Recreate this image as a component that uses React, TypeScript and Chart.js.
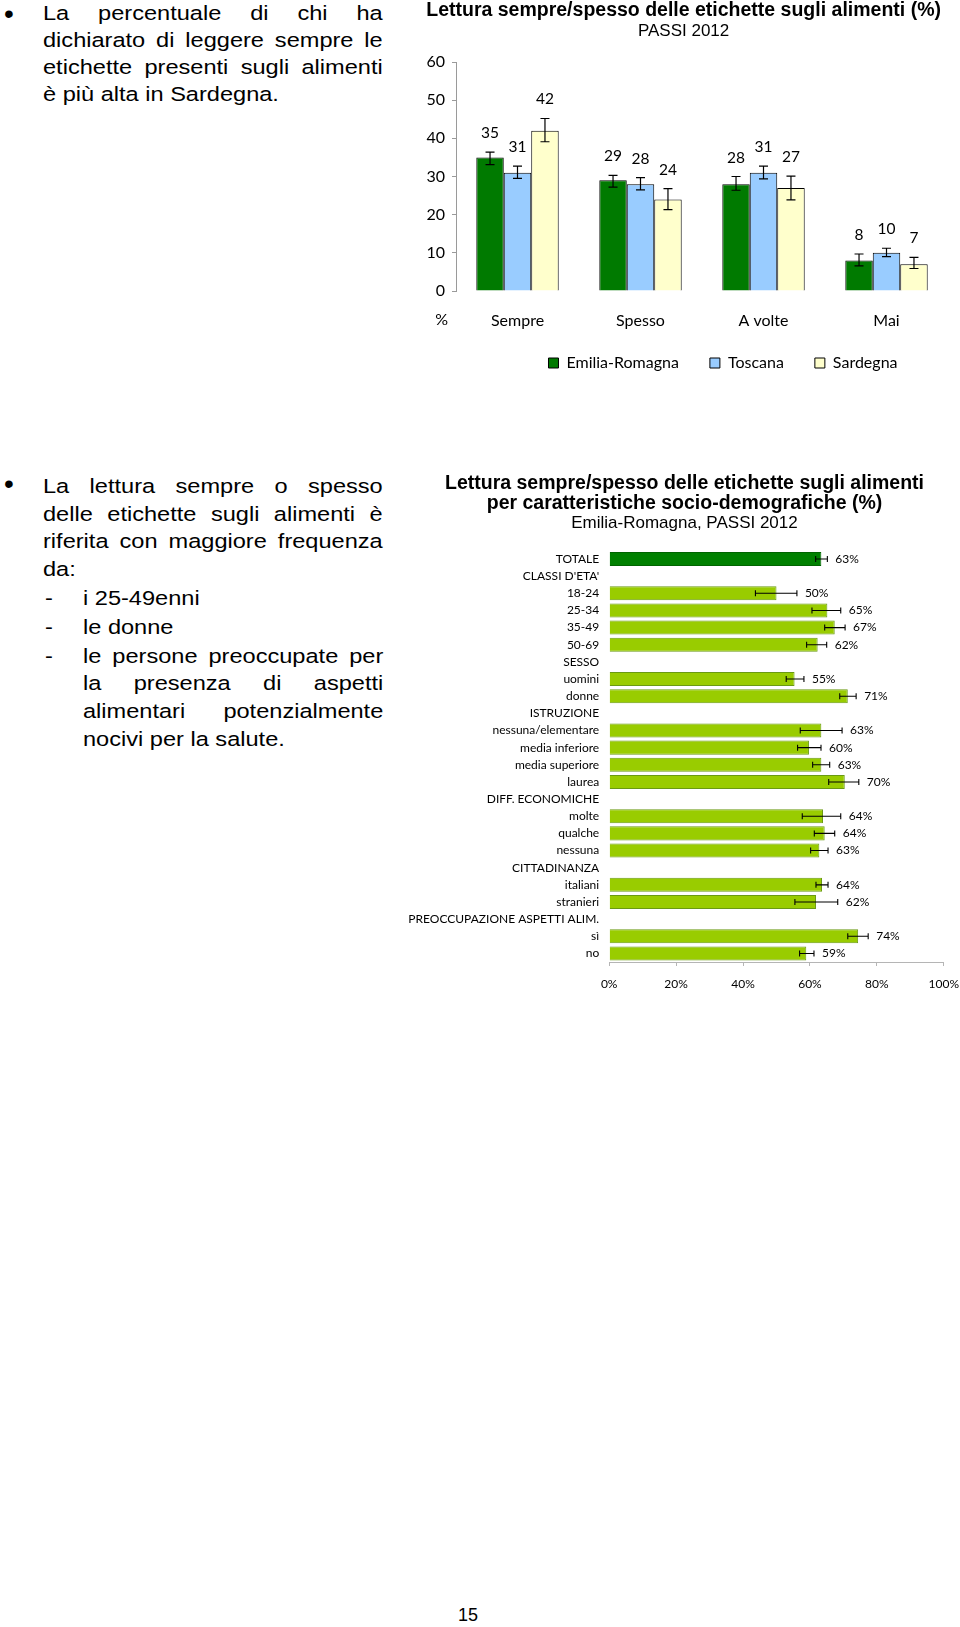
import React, { useEffect, useRef } from 'react';
import { Chart, registerables } from 'chart.js';

Chart.register(...registerables);

// ---------- Chart 1 data ----------
const frequencyLabels = ['Sempre', 'Spesso', 'A volte', 'Mai'];
const regionNames = ['Emilia-Romagna', 'Toscana', 'Sardegna'];
const emiliaValues = [35, 29, 28, 8];
const emiliaLow = [33.1, 27.2, 26.4, 6.6];
const emiliaHigh = [36.4, 30.3, 30.0, 9.7];
const toscanaValues = [31, 28, 31, 10];
const toscanaLow = [29.5, 26.5, 29.4, 9.0];
const toscanaHigh = [32.7, 29.7, 32.7, 11.2];
const sardegnaValues = [42, 24, 27, 7];
const sardegnaLow = [39.1, 21.3, 23.9, 5.9];
const sardegnaHigh = [45.2, 26.8, 30.1, 8.8];
const yAxisMax1 = 60;
const yAxisStep1 = 10;

// ---------- Chart 2 data ----------
const groupLabels = [
  'TOTALE',
  "CLASSI D'ETA'",
  '18-24',
  '25-34',
  '35-49',
  '50-69',
  'SESSO',
  'uomini',
  'donne',
  'ISTRUZIONE',
  'nessuna/elementare',
  'media inferiore',
  'media superiore',
  'laurea',
  'DIFF. ECONOMICHE',
  'molte',
  'qualche',
  'nessuna',
  'CITTADINANZA',
  'italiani',
  'stranieri',
  'PREOCCUPAZIONE ASPETTI ALIM.',
  'sì',
  'no',
];
const readingValues = [63.4, null, 50.0, 65.2, 67.4, 62.3, null, 55.4, 71.3, null, 63.4, 59.7, 63.4, 70.4, null, 63.9, 64.4, 62.8, null, 63.6, 61.8, null, 74.4, 58.9];
const readingLow = [61.7, null, 43.7, 60.6, 64.4, 59.0, null, 52.9, 68.9, null, 57.1, 56.3, 60.8, 65.6, null, 57.7, 61.3, 60.2, null, 61.8, 55.5, null, 71.3, 56.9];
const readingHigh = [65.2, null, 56.1, 69.2, 70.5, 65.0, null, 58.2, 73.8, null, 69.6, 63.3, 65.9, 74.6, null, 69.2, 67.4, 65.4, null, 65.4, 68.3, null, 77.4, 61.2];
const xAxisMax2 = 100;
const xAxisStep2 = 20;

const SANS = '"Liberation Sans", Arial, sans-serif';
const LABEL_FONT = 'Lato, "Open Sans", sans-serif';

const errorBarsPlugin = {
  id: 'errorBars',
  afterDatasetsDraw(chart: any, _args: any, opts: any) {
    const { ctx } = chart;
    const horizontal = chart.options.indexAxis === 'y';
    const valueScale = horizontal ? chart.scales.x : chart.scales.y;
    const cap = opts.cap ?? 4;
    chart.data.datasets.forEach((ds: any, di: number) => {
      const meta = chart.getDatasetMeta(di);
      meta.data.forEach((bar: any, i: number) => {
        const v = ds.data[i];
        if (v == null) return;
        const lo = valueScale.getPixelForValue(ds.errLow[i]);
        const hi = valueScale.getPixelForValue(ds.errHigh[i]);
        ctx.save();
        ctx.strokeStyle = '#000';
        ctx.lineWidth = opts.lineWidth ?? 1;
        ctx.beginPath();
        if (horizontal) {
          const y = bar.y;
          ctx.moveTo(lo, y); ctx.lineTo(hi, y);
          ctx.moveTo(lo, y - cap); ctx.lineTo(lo, y + cap);
          ctx.moveTo(hi, y - cap); ctx.lineTo(hi, y + cap);
        } else {
          const x = bar.x;
          ctx.moveTo(x, lo); ctx.lineTo(x, hi);
          ctx.moveTo(x - cap, lo); ctx.lineTo(x + cap, lo);
          ctx.moveTo(x - cap, hi); ctx.lineTo(x + cap, hi);
        }
        ctx.stroke();
        ctx.fillStyle = '#000';
        ctx.font = opts.font;
        ctx.textBaseline = 'middle';
        const text = Math.round(v) + (opts.suffix || '');
        if (horizontal) {
          ctx.textAlign = 'left';
          ctx.fillText(text, hi + opts.gap, bar.y);
        } else {
          ctx.textAlign = 'center';
          ctx.fillText(text, bar.x, hi - opts.gap);
        }
        ctx.restore();
      });
    });
  },
};

const shiftBoxesPlugin = {
  id: 'shiftBoxes',
  afterLayout(chart: any, _args: any, opts: any) {
    chart.boxes.forEach((b: any) => {
      if (b.axis) return;
      let dx = 0;
      let dy = 0;
      if (b === chart.legend) {
        dx = opts.legend || 0;
        dy = opts.legendY || 0;
      } else if (b.position === 'top') dx = opts.title || 0;
      b.left += dx;
      b.right += dx;
      b.top += dy;
      b.bottom += dy;
    });
  },
};

const axisUnitPlugin = {
  id: 'axisUnit',
  afterDraw(chart: any, _args: any, opts: any) {
    if (!opts.text) return;
    const { ctx, chartArea } = chart;
    ctx.save();
    ctx.fillStyle = '#000';
    ctx.font = opts.font;
    ctx.textAlign = 'center';
    ctx.textBaseline = 'middle';
    ctx.fillText(opts.text, chartArea.left + opts.dx, chartArea.bottom + opts.dy);
    ctx.restore();
  },
};

function FrequencyChart() {
  const ref = useRef<HTMLCanvasElement | null>(null);
  useEffect(() => {
    if (!ref.current) return;
    const chart = new Chart(ref.current, {
      type: 'bar',
      data: {
        labels: frequencyLabels,
        datasets: [
          { label: regionNames[0], data: emiliaValues, errLow: emiliaLow, errHigh: emiliaHigh, backgroundColor: '#007A00', borderColor: '#000', borderWidth: 1 } as any,
          { label: regionNames[1], data: toscanaValues, errLow: toscanaLow, errHigh: toscanaHigh, backgroundColor: '#99CCFF', borderColor: '#000', borderWidth: 1 } as any,
          { label: regionNames[2], data: sardegnaValues, errLow: sardegnaLow, errHigh: sardegnaHigh, backgroundColor: '#FFFFCC', borderColor: '#000', borderWidth: 1 } as any,
        ],
      },
      options: {
        responsive: false,
        animation: false,
        devicePixelRatio: 1,
        categoryPercentage: 0.67,
        barPercentage: 1,
        layout: { padding: { left: 0, right: 12, top: 0, bottom: 5 } },
        scales: {
          x: {
            grid: { display: false, drawTicks: false },
            border: { display: false },
            ticks: { color: '#000', font: { family: LABEL_FONT, size: 16 }, padding: 20 },
            afterFit: (s: any) => { s.height = 42; },
          },
          y: {
            min: 0,
            max: yAxisMax1,
            ticks: { stepSize: yAxisStep1, color: '#000', font: { family: LABEL_FONT, size: 16 }, padding: 7 },
            grid: { drawOnChartArea: false, drawTicks: true, tickLength: 4, color: '#9a9a9a' },
            border: { display: true, color: '#9a9a9a' },
            afterFit: (s: any) => { s.width = 46; },
          },
        },
        plugins: {
          title: {
            display: true,
            text: 'Lettura sempre/spesso delle etichette sugli alimenti (%)',
            color: '#000',
            font: { family: SANS, size: 19.5, weight: 'bold', lineHeight: 1 },
            padding: { top: 1, bottom: 1.2 },
          },
          subtitle: {
            display: true,
            text: 'PASSI 2012',
            color: '#000',
            font: { family: SANS, size: 17, weight: 'normal', lineHeight: 1.15 },
            padding: { top: 0, bottom: 20.75 },
          },
          legend: {
            display: true,
            position: 'bottom',
            labels: {
              boxWidth: 10,
              boxHeight: 10,
              padding: 31,
              color: '#000',
              font: { family: LABEL_FONT, size: 16 },
            },
          },
          tooltip: { enabled: false },
          errorBars: { font: '15.5px Lato', gap: 19, cap: 4.5, lineWidth: 1.2 },
          shiftBoxes: { title: 4.6, legend: 44, legendY: -9 },
          axisUnit: { text: '%', font: '16px Lato', dx: -14.4, dy: 28.5 },
        } as any,
      },
      plugins: [errorBarsPlugin, shiftBoxesPlugin, axisUnitPlugin],
    } as any);
    return () => chart.destroy();
  }, []);
  return <canvas ref={ref} width={550} height={395} style={{ position: 'absolute', left: 410, top: 0, width: 550, height: 395 }} />;
}

function ProfileChart() {
  const ref = useRef<HTMLCanvasElement | null>(null);
  useEffect(() => {
    if (!ref.current) return;
    const fills = groupLabels.map((_, i) => (i === 0 ? '#008000' : '#99CC00'));
    const borders = groupLabels.map((_, i) => (i === 0 ? '#006400' : '#6A9A12'));
    const chart = new Chart(ref.current, {
      type: 'bar',
      data: {
        labels: groupLabels,
        datasets: [
          { label: 'Lettura sempre/spesso', data: readingValues, errLow: readingLow, errHigh: readingHigh, backgroundColor: fills, borderColor: borders, borderWidth: 1 } as any,
        ],
      },
      options: {
        indexAxis: 'y',
        responsive: false,
        animation: false,
        devicePixelRatio: 1,
        categoryPercentage: 1,
        barPercentage: 0.82,
        layout: { padding: { left: 0, right: 16.2, top: 0, bottom: 3.8 } },
        scales: {
          x: {
            min: 0,
            max: xAxisMax2,
            ticks: { stepSize: xAxisStep2, color: '#000', font: { family: LABEL_FONT, size: 12 }, padding: 10.5, callback: (v: any) => v + '%' },
            grid: { drawOnChartArea: false, drawTicks: true, tickLength: 4, color: '#b5b5b5' },
            border: { display: true, color: '#b5b5b5' },
            afterFit: (s: any) => {
              s.height = 39.2;
              s.paddingLeft = 0;
              s.paddingRight = 0;
            },
          },
          y: {
            grid: { display: false, drawTicks: false },
            border: { display: false },
            ticks: { autoSkip: false, color: '#000', font: { family: LABEL_FONT, size: 12 }, padding: 10 },
            afterFit: (s: any) => { s.width = 229.2; },
          },
        },
        plugins: {
          title: {
            display: true,
            text: ['Lettura sempre/spesso delle etichette sugli alimenti', 'per caratteristiche socio-demografiche (%)'],
            color: '#000',
            font: { family: SANS, size: 19.5, weight: 'bold', lineHeight: 1.026 },
            padding: { top: 8.5, bottom: 0 },
          },
          subtitle: {
            display: true,
            text: 'Emilia-Romagna, PASSI 2012',
            color: '#000',
            font: { family: SANS, size: 17, weight: 'normal', lineHeight: 1.15 },
            padding: { top: 0, bottom: 17.35 },
          },
          legend: { display: false },
          tooltip: { enabled: false },
          errorBars: { font: '12px Lato', gap: 8, cap: 3, lineWidth: 1.1, suffix: '%' },
          shiftBoxes: { title: 22.6 },
        } as any,
      },
      plugins: [errorBarsPlugin, shiftBoxesPlugin],
    } as any);
    return () => chart.destroy();
  }, []);
  return <canvas ref={ref} width={580} height={540} style={{ position: 'absolute', left: 380, top: 465, width: 580, height: 540 }} />;
}

const TEXT_SIZE = 20.5;
const STRETCH = 1.15;
const BASELINE_OFFSET = 19.1;

function TextLine({ baseline, left, right, text, justify }: { baseline: number; left: number; right: number; text: string; justify?: boolean }) {
  return (
    <div
      style={{
        position: 'absolute',
        top: baseline - BASELINE_OFFSET,
        left,
        width: (right - left) / STRETCH,
        fontSize: TEXT_SIZE,
        lineHeight: '24px',
        transform: `scaleX(${STRETCH})`,
        transformOrigin: 'left top',
        textAlign: justify ? 'justify' : 'left',
        textAlignLast: justify ? 'justify' : 'left',
      } as any}
    >
      {text}
    </div>
  );
}

function Bullet({ center }: { center: number }) {
  return (
    <div style={{ position: 'absolute', top: center - 15.8, left: 4, fontSize: 28, lineHeight: '32px' }}>•</div>
  );
}

function Dash({ baseline }: { baseline: number }) {
  return (
    <div
      style={{
        position: 'absolute',
        top: baseline - BASELINE_OFFSET,
        left: 45,
        fontSize: TEXT_SIZE,
        lineHeight: '24px',
        transform: `scaleX(${STRETCH})`,
        transformOrigin: 'left top',
      }}
    >
      -
    </div>
  );
}

export default function App() {
  const L = 43.3;
  const R = 383;
  const L2 = 82.7;
  return (
    <div
      style={{
        position: 'absolute',
        left: 0,
        top: 0,
        width: 960,
        height: 1627,
        background: '#fff',
        overflow: 'hidden',
        fontFamily: SANS,
        color: '#000',
      }}
    >
      <Bullet center={14} />
      <TextLine baseline={20.5} left={L} right={R} text="La percentuale di chi ha" justify />
      <TextLine baseline={47.3} left={L} right={R} text="dichiarato di leggere sempre le" justify />
      <TextLine baseline={74.2} left={L} right={R} text="etichette presenti sugli alimenti" justify />
      <TextLine baseline={101.5} left={L} right={R} text="è più alta in Sardegna." />

      <Bullet center={484} />
      <TextLine baseline={493.3} left={L} right={R} text="La lettura sempre o spesso" justify />
      <TextLine baseline={521} left={L} right={R} text="delle etichette sugli alimenti è" justify />
      <TextLine baseline={548.3} left={L} right={R} text="riferita con maggiore frequenza" justify />
      <TextLine baseline={576} left={L} right={R} text="da:" />
      <Dash baseline={605} />
      <TextLine baseline={605} left={L2} right={R} text="i 25-49enni" />
      <Dash baseline={634} />
      <TextLine baseline={634} left={L2} right={R} text="le donne" />
      <Dash baseline={662.7} />
      <TextLine baseline={662.7} left={L2} right={R} text="le persone preoccupate per" justify />
      <TextLine baseline={690} left={L2} right={R} text="la presenza di aspetti" justify />
      <TextLine baseline={718.3} left={L2} right={R} text="alimentari potenzialmente" justify />
      <TextLine baseline={746} left={L2} right={R} text="nocivi per la salute." />

      <FrequencyChart />
      <ProfileChart />

      <div style={{ position: 'absolute', left: 448, top: 1603, width: 40, textAlign: 'center', fontSize: 18, lineHeight: '24px' }}>15</div>
    </div>
  );
}
